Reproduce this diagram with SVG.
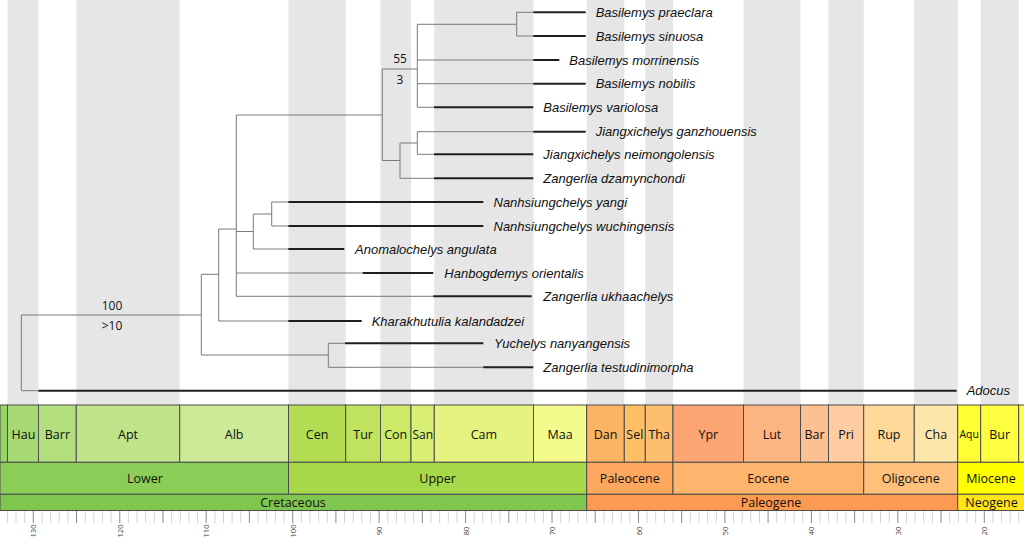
<svg xmlns="http://www.w3.org/2000/svg" width="1024" height="539" viewBox="0 0 1024 539">
<style>
.stripe{fill:#e6e6e6}
.br{stroke:#7a7a7a;stroke-width:1;fill:none}
.bar{stroke:#1e1e1e;stroke-width:2;fill:none}
.tx{font-family:"Liberation Sans",Arial,sans-serif;font-style:italic;font-size:13px;fill:#111}
.sup{font-family:"Open Sans","Noto Sans",sans-serif;font-size:12px;fill:#111;text-anchor:middle}
.box{stroke:#4d4d4d;stroke-width:1}
.ts{font-family:"Open Sans","Noto Sans",sans-serif;font-size:12.5px;fill:#111;text-anchor:middle}
.tick{stroke:#d4d4d4;stroke-width:1}
.tickM{stroke:#8a8a8a;stroke-width:1}
.tl{font-family:"Open Sans","Noto Sans",sans-serif;font-size:7.5px;fill:#444;text-anchor:middle;dominant-baseline:central}
</style>
<rect width="1024" height="539" fill="#ffffff"/>
<g id="stripes">
<rect class="stripe" x="7.5" y="0" width="31" height="405"/>
<rect class="stripe" x="76.3" y="0" width="103.4" height="405"/>
<rect class="stripe" x="288.5" y="0" width="57.2" height="405"/>
<rect class="stripe" x="380.5" y="0" width="30.5" height="405"/>
<rect class="stripe" x="434.3" y="0" width="99.2" height="405"/>
<rect class="stripe" x="586.7" y="0" width="37.6" height="405"/>
<rect class="stripe" x="645.3" y="0" width="27.7" height="405"/>
<rect class="stripe" x="743.5" y="0" width="57" height="405"/>
<rect class="stripe" x="828.5" y="0" width="35.2" height="405"/>
<rect class="stripe" x="914.3" y="0" width="43.4" height="405"/>
<rect class="stripe" x="980.7" y="0" width="38" height="405"/>
</g>
<g id="connectors">
<path class="br" d="M516.7 12.3V36 M516.7 12.3H533.3 M516.7 36H533.3 M417.3 24.3H516.7
M417.3 24.3V107.3 M417.3 60H533.3 M417.3 83.7H533.3 M417.3 107.3H434
M382.3 69H417.3
M417.3 131.7V154.3 M417.3 131.7H533.3 M417.3 154.3H434
M400 143V178.3 M400 143H417.3 M400 178.3H434
M382.3 69V160.5 M382.3 160.5H400
M236.3 115H382.3
M271.7 202V226 M271.7 202H288.3 M271.7 226H288.3
M253.3 214V249 M253.3 214H271.7 M253.3 249H288.3
M236.3 115V296.3 M236.3 231.5H253.3 M236.3 273H362.7 M236.3 296.3H434
M218.7 229V321 M218.7 229H236.3 M218.7 321H288.3
M201.3 274.3V355 M201.3 274.3H218.7
M328.3 343.3V367.3 M328.3 343.3H345 M328.3 367.3H483.3 M201.3 355H328.3
M21.3 315V390.7 M21.3 315H201.3 M21.3 390.7H38.3"/>
</g>
<g id="support">
<text class="sup" x="400" y="63">55</text>
<text class="sup" x="400" y="84.3">3</text>
<text class="sup" x="112" y="310.3">100</text>
<text class="sup" x="112" y="330.3">&gt;10</text>
</g>
<g id="taxon-basilemys-praeclara"><path class="bar" d="M533.3 12.3H585.7"/><text class="tx" x="595.7" y="16.9">Basilemys praeclara</text></g>
<g id="taxon-basilemys-sinuosa"><path class="bar" d="M533.3 36H585.7"/><text class="tx" x="595.7" y="40.6">Basilemys sinuosa</text></g>
<g id="taxon-basilemys-morrinensis"><path class="bar" d="M533.3 60H559.3"/><text class="tx" x="569.3" y="64.6">Basilemys morrinensis</text></g>
<g id="taxon-basilemys-nobilis"><path class="bar" d="M533.3 83.7H585.7"/><text class="tx" x="595.7" y="88.3">Basilemys nobilis</text></g>
<g id="taxon-basilemys-variolosa"><path class="bar" d="M434 107.3H533.3"/><text class="tx" x="543.3" y="111.9">Basilemys variolosa</text></g>
<g id="taxon-jiangxichelys-ganzhouensis"><path class="bar" d="M533.3 131.7H585.7"/><text class="tx" x="595.7" y="136.3">Jiangxichelys ganzhouensis</text></g>
<g id="taxon-jiangxichelys-neimongolensis"><path class="bar" d="M434 154.3H533.3"/><text class="tx" x="543.3" y="158.9">Jiangxichelys neimongolensis</text></g>
<g id="taxon-zangerlia-dzamynchondi"><path class="bar" d="M434 178.3H533.3"/><text class="tx" x="543.3" y="182.9">Zangerlia dzamynchondi</text></g>
<g id="taxon-nanhsiungchelys-yangi"><path class="bar" d="M288.3 202H483.3"/><text class="tx" x="493.5" y="206.6">Nanhsiungchelys yangi</text></g>
<g id="taxon-nanhsiungchelys-wuchingensis"><path class="bar" d="M288.3 226H483.3"/><text class="tx" x="493.5" y="230.6">Nanhsiungchelys wuchingensis</text></g>
<g id="taxon-anomalochelys-angulata"><path class="bar" d="M288.3 249H344.3"/><text class="tx" x="355" y="253.6">Anomalochelys angulata</text></g>
<g id="taxon-hanbogdemys-orientalis"><path class="bar" d="M362.7 273H433.3"/><text class="tx" x="444.3" y="277.6">Hanbogdemys orientalis</text></g>
<g id="taxon-zangerlia-ukhaachelys"><path class="bar" d="M433.3 296.3H531.7"/><text class="tx" x="543.3" y="300.9">Zangerlia ukhaachelys</text></g>
<g id="taxon-kharakhutulia-kalandadzei"><path class="bar" d="M288.3 321H361.7"/><text class="tx" x="371.7" y="325.6">Kharakhutulia kalandadzei</text></g>
<g id="taxon-yuchelys-nanyangensis"><path class="bar" d="M345 343.3H483.3"/><text class="tx" x="494" y="347.9">Yuchelys nanyangensis</text></g>
<g id="taxon-zangerlia-testudinimorpha"><path class="bar" d="M483.3 367.3H533.3"/><text class="tx" x="543.3" y="371.9">Zangerlia testudinimorpha</text></g>
<g id="taxon-adocus"><path class="bar" d="M38.3 390.7H956.7"/><text class="tx" x="966.7" y="395.3">Adocus</text></g>
<g id="stages">
<rect class="box" x="0" y="405" width="7.5" height="57.3" fill="#99D36A"/>
<rect class="box" x="7.5" y="405" width="31" height="57.3" fill="#A6D975"/>
<rect class="box" x="38.5" y="405" width="37.8" height="57.3" fill="#B3DF7F"/>
<rect class="box" x="76.3" y="405" width="103.4" height="57.3" fill="#BFE48A"/>
<rect class="box" x="179.7" y="405" width="108.8" height="57.3" fill="#CCEA97"/>
<rect class="box" x="288.5" y="405" width="57.2" height="57.3" fill="#B3DE53"/>
<rect class="box" x="345.7" y="405" width="34.8" height="57.3" fill="#BFE35D"/>
<rect class="box" x="380.5" y="405" width="30.5" height="57.3" fill="#CCE968"/>
<rect class="box" x="411" y="405" width="23.3" height="57.3" fill="#D9EF74"/>
<rect class="box" x="434.3" y="405" width="99.2" height="57.3" fill="#E6F47F"/>
<rect class="box" x="533.5" y="405" width="53.2" height="57.3" fill="#F2FA8C"/>
<rect class="box" x="586.7" y="405" width="37.6" height="57.3" fill="#FDB462"/>
<rect class="box" x="624.3" y="405" width="21" height="57.3" fill="#FEBF65"/>
<rect class="box" x="645.3" y="405" width="27.7" height="57.3" fill="#FDBF6F"/>
<rect class="box" x="673" y="405" width="70.5" height="57.3" fill="#FCA773"/>
<rect class="box" x="743.5" y="405" width="57" height="57.3" fill="#FCB482"/>
<rect class="box" x="800.5" y="405" width="28" height="57.3" fill="#FDC091"/>
<rect class="box" x="828.5" y="405" width="35.2" height="57.3" fill="#FDCDA1"/>
<rect class="box" x="863.7" y="405" width="50.6" height="57.3" fill="#FED99A"/>
<rect class="box" x="914.3" y="405" width="43.4" height="57.3" fill="#FEE6AA"/>
<rect class="box" x="957.7" y="405" width="23" height="57.3" fill="#FFFF33"/>
<rect class="box" x="980.7" y="405" width="38" height="57.3" fill="#FFFF41"/>
<rect class="box" x="1018.7" y="405" width="6" height="57.3" fill="#FFFF4D"/>
<text class="ts" x="23.5" y="438.5">Hau</text>
<text class="ts" x="57.4" y="438.5">Barr</text>
<text class="ts" x="128" y="438.5">Apt</text>
<text class="ts" x="234.1" y="438.5">Alb</text>
<text class="ts" x="317.1" y="438.5">Cen</text>
<text class="ts" x="363.1" y="438.5">Tur</text>
<text class="ts" x="395.7" y="438.5">Con</text>
<text class="ts" x="422.7" y="438.5" style="font-size:12px">San</text>
<text class="ts" x="483.9" y="438.5">Cam</text>
<text class="ts" x="560.1" y="438.5">Maa</text>
<text class="ts" x="605.5" y="438.5">Dan</text>
<text class="ts" x="634.8" y="438.5">Sel</text>
<text class="ts" x="659.2" y="438.5">Tha</text>
<text class="ts" x="708.3" y="438.5">Ypr</text>
<text class="ts" x="772" y="438.5">Lut</text>
<text class="ts" x="814.5" y="438.5">Bar</text>
<text class="ts" x="846.1" y="438.5">Pri</text>
<text class="ts" x="889" y="438.5">Rup</text>
<text class="ts" x="936" y="438.5">Cha</text>
<text class="ts" x="969.2" y="438" style="font-size:10.5px">Aqu</text>
<text class="ts" x="999.7" y="438.5">Bur</text>
</g>
<g id="epochs">
<rect class="box" x="0" y="462.3" width="288.5" height="32" fill="#8CCD57"/>
<rect class="box" x="288.5" y="462.3" width="298.2" height="32" fill="#A6D84A"/>
<rect class="box" x="586.7" y="462.3" width="86.3" height="32" fill="#FDA75F"/>
<rect class="box" x="673" y="462.3" width="190.7" height="32" fill="#FDB46C"/>
<rect class="box" x="863.7" y="462.3" width="94" height="32" fill="#FEC07A"/>
<rect class="box" x="957.7" y="462.3" width="67" height="32" fill="#FFFF00"/>
<text class="ts" x="145" y="482.8">Lower</text>
<text class="ts" x="437.6" y="482.8">Upper</text>
<text class="ts" x="629.8" y="482.8">Paleocene</text>
<text class="ts" x="768.3" y="482.8">Eocene</text>
<text class="ts" x="910.7" y="482.8">Oligocene</text>
<text class="ts" x="991" y="482.8">Miocene</text>
</g>
<g id="periods">
<rect class="box" x="0" y="494.3" width="586.7" height="16.2" fill="#7FC64E"/>
<rect class="box" x="586.7" y="494.3" width="371" height="16.2" fill="#FD9A52"/>
<rect class="box" x="957.7" y="494.3" width="67" height="16.2" fill="#FFE619"/>
<text class="ts" x="293" y="506.8">Cretaceous</text>
<text class="ts" x="771" y="506.8">Paleogene</text>
<text class="ts" x="991.5" y="506.8">Neogene</text>
</g>
<g id="axis">
<path class="tick" d="M7.4 511V523M16 511V523M24.7 511V523M42 511V523M50.6 511V523M59.2 511V523M67.9 511V523M85.2 511V523M93.8 511V523M102.5 511V523M111.1 511V523M128.4 511V523M137 511V523M145.7 511V523M154.3 511V523M171.6 511V523M180.3 511V523M188.9 511V523M197.6 511V523M214.9 511V523M223.5 511V523M232.1 511V523M240.8 511V523M258.1 511V523M266.7 511V523M275.4 511V523M284 511V523M301.3 511V523M309.9 511V523M318.6 511V523M327.2 511V523M344.5 511V523M353.2 511V523M361.8 511V523M370.5 511V523M387.8 511V523M396.4 511V523M405 511V523M413.7 511V523M431 511V523M439.6 511V523M448.3 511V523M456.9 511V523M474.2 511V523M482.8 511V523M491.5 511V523M500.1 511V523M517.4 511V523M526.1 511V523M534.7 511V523M543.4 511V523M560.7 511V523M569.3 511V523M577.9 511V523M586.6 511V523M603.9 511V523M612.5 511V523M621.2 511V523M629.8 511V523M647.1 511V523M655.7 511V523M664.4 511V523M673 511V523M690.3 511V523M699 511V523M707.6 511V523M716.3 511V523M733.6 511V523M742.2 511V523M750.8 511V523M759.5 511V523M776.8 511V523M785.4 511V523M794.1 511V523M802.7 511V523M820 511V523M828.6 511V523M837.3 511V523M845.9 511V523M863.2 511V523M871.9 511V523M880.5 511V523M889.2 511V523M906.5 511V523M915.1 511V523M923.7 511V523M932.4 511V523M949.7 511V523M958.3 511V523M967 511V523M975.6 511V523M992.9 511V523M1001.5 511V523M1010.2 511V523M1018.8 511V523"/>
<path class="tickM" d="M33.3 511V523M76.5 511V523M119.8 511V523M163 511V523M206.2 511V523M249.4 511V523M292.7 511V523M335.9 511V523M379.1 511V523M422.3 511V523M465.6 511V523M508.8 511V523M552 511V523M595.2 511V523M638.5 511V523M681.7 511V523M724.9 511V523M768.1 511V523M811.4 511V523M854.6 511V523M897.8 511V523M941 511V523M984.3 511V523"/>
<text class="tl" x="33.3" y="531" transform="rotate(-90 33.3 531)">130</text>
<text class="tl" x="119.8" y="531" transform="rotate(-90 119.8 531)">120</text>
<text class="tl" x="206.2" y="531" transform="rotate(-90 206.2 531)">110</text>
<text class="tl" x="292.7" y="531" transform="rotate(-90 292.7 531)">100</text>
<text class="tl" x="379.1" y="531" transform="rotate(-90 379.1 531)">90</text>
<text class="tl" x="465.6" y="531" transform="rotate(-90 465.6 531)">80</text>
<text class="tl" x="552" y="531" transform="rotate(-90 552 531)">70</text>
<text class="tl" x="638.5" y="531" transform="rotate(-90 638.5 531)">60</text>
<text class="tl" x="724.9" y="531" transform="rotate(-90 724.9 531)">50</text>
<text class="tl" x="811.4" y="531" transform="rotate(-90 811.4 531)">40</text>
<text class="tl" x="897.8" y="531" transform="rotate(-90 897.8 531)">30</text>
<text class="tl" x="984.3" y="531" transform="rotate(-90 984.3 531)">20</text>
</g>
</svg>
